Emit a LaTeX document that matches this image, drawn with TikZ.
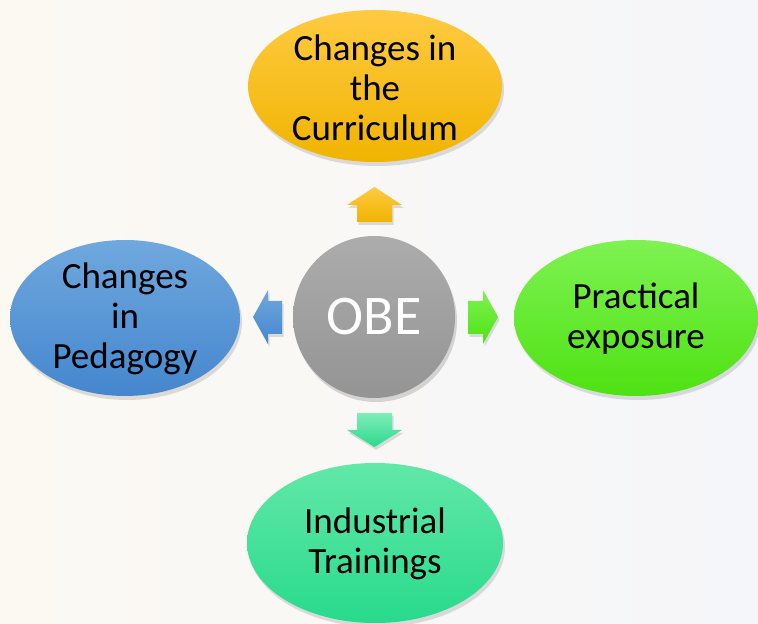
\documentclass[tikz,border=0pt]{standalone}
\usepackage{fontspec}
\setmainfont{Carlito}
\usetikzlibrary{shapes.geometric,shadows}
\definecolor{yelT}{RGB}{255,202,66}
\definecolor{yelB}{RGB}{240,180,0}
\definecolor{bluT}{RGB}{112,168,222}
\definecolor{bluB}{RGB}{68,134,206}
\definecolor{grnT}{RGB}{126,242,82}
\definecolor{grnB}{RGB}{78,226,18}
\definecolor{tealT}{RGB}{98,232,168}
\definecolor{tealB}{RGB}{40,218,140}
\definecolor{gryT}{RGB}{172,172,172}
\definecolor{gryB}{RGB}{148,148,148}
\definecolor{bgL}{RGB}{252,249,242}
\definecolor{bgR}{RGB}{245,246,250}
\tikzset{
  bubble/.style={ellipse, draw=none, inner sep=0pt,
    drop shadow={opacity=0.25, shadow xshift=2pt, shadow yshift=-4pt}},
  label text/.style={align=center, inner sep=0pt, text=black,
    font=\fontsize{37}{40}\selectfont},
  blockarrow/.style={draw=none,
    drop shadow={opacity=0.25, shadow xshift=1.5pt, shadow yshift=-3pt}},
}
\begin{document}
\begin{tikzpicture}[x=1pt,y=1pt]
\shade[left color=bgL, right color=bgR] (0,0) rectangle (758,624);
\useasboundingbox (0,0) rectangle (758,624);

% central circle
\node[circle, minimum size=162pt, inner sep=0pt, top color=gryT, bottom color=gryB,
  drop shadow={opacity=0.3, shadow xshift=2pt, shadow yshift=-4pt}] (obe) at (374,307) {};
\node[text=white, inner sep=0pt, font=\fontsize{56}{60}\selectfont] (obeT) at (obe.center) {OBE};

% outer ellipses
\node[bubble, minimum width=254pt, minimum height=152pt, top color=yelT, bottom color=yelB] (top) at (375,538) {};
\node[label text] (topT) at ([yshift=-2pt]top.center) {Changes in\\the\\Curriculum};

\node[bubble, minimum width=230pt, minimum height=156pt, top color=bluT, bottom color=bluB] (left) at (125,306) {};
\node[label text] (leftT) at ([yshift=-1pt]left.center) {Changes\\in\\Pedagogy};

\node[bubble, minimum width=244pt, minimum height=156pt, top color=grnT, bottom color=grnB] (right) at (636,306) {};
\node[label text] (rightT) at ([yshift=-1pt]right.center) {Practical\\exposure};

\node[bubble, minimum width=256pt, minimum height=160pt, top color=tealT, bottom color=tealB] (bottom) at (375,81) {};
\node[label text] (bottomT) at ([yshift=-1pt]bottom.center) {Industrial\\Trainings};

% block arrows
\shade[blockarrow, top color=yelT, bottom color=yelB]
  (357,402) -- (357,419) -- (347,419) -- (374.5,437) -- (402,419) -- (392,419) -- (392,402) -- cycle;
\shade[blockarrow, top color=tealT!80!white, bottom color=tealB]
  (357,211) -- (392,211) -- (392,194) -- (402,194) -- (374.5,177) -- (347,194) -- (357,194) -- cycle;
\shade[blockarrow, top color=bluT, bottom color=bluB]
  (282,323) -- (268,323) -- (268,334) -- (253,307) -- (268,280) -- (268,290) -- (282,290) -- cycle;
\shade[blockarrow, top color=grnT, bottom color=grnB]
  (468,323) -- (483,323) -- (483,334) -- (498,307) -- (483,280) -- (483,290) -- (468,290) -- cycle;
\end{tikzpicture}
\end{document}
